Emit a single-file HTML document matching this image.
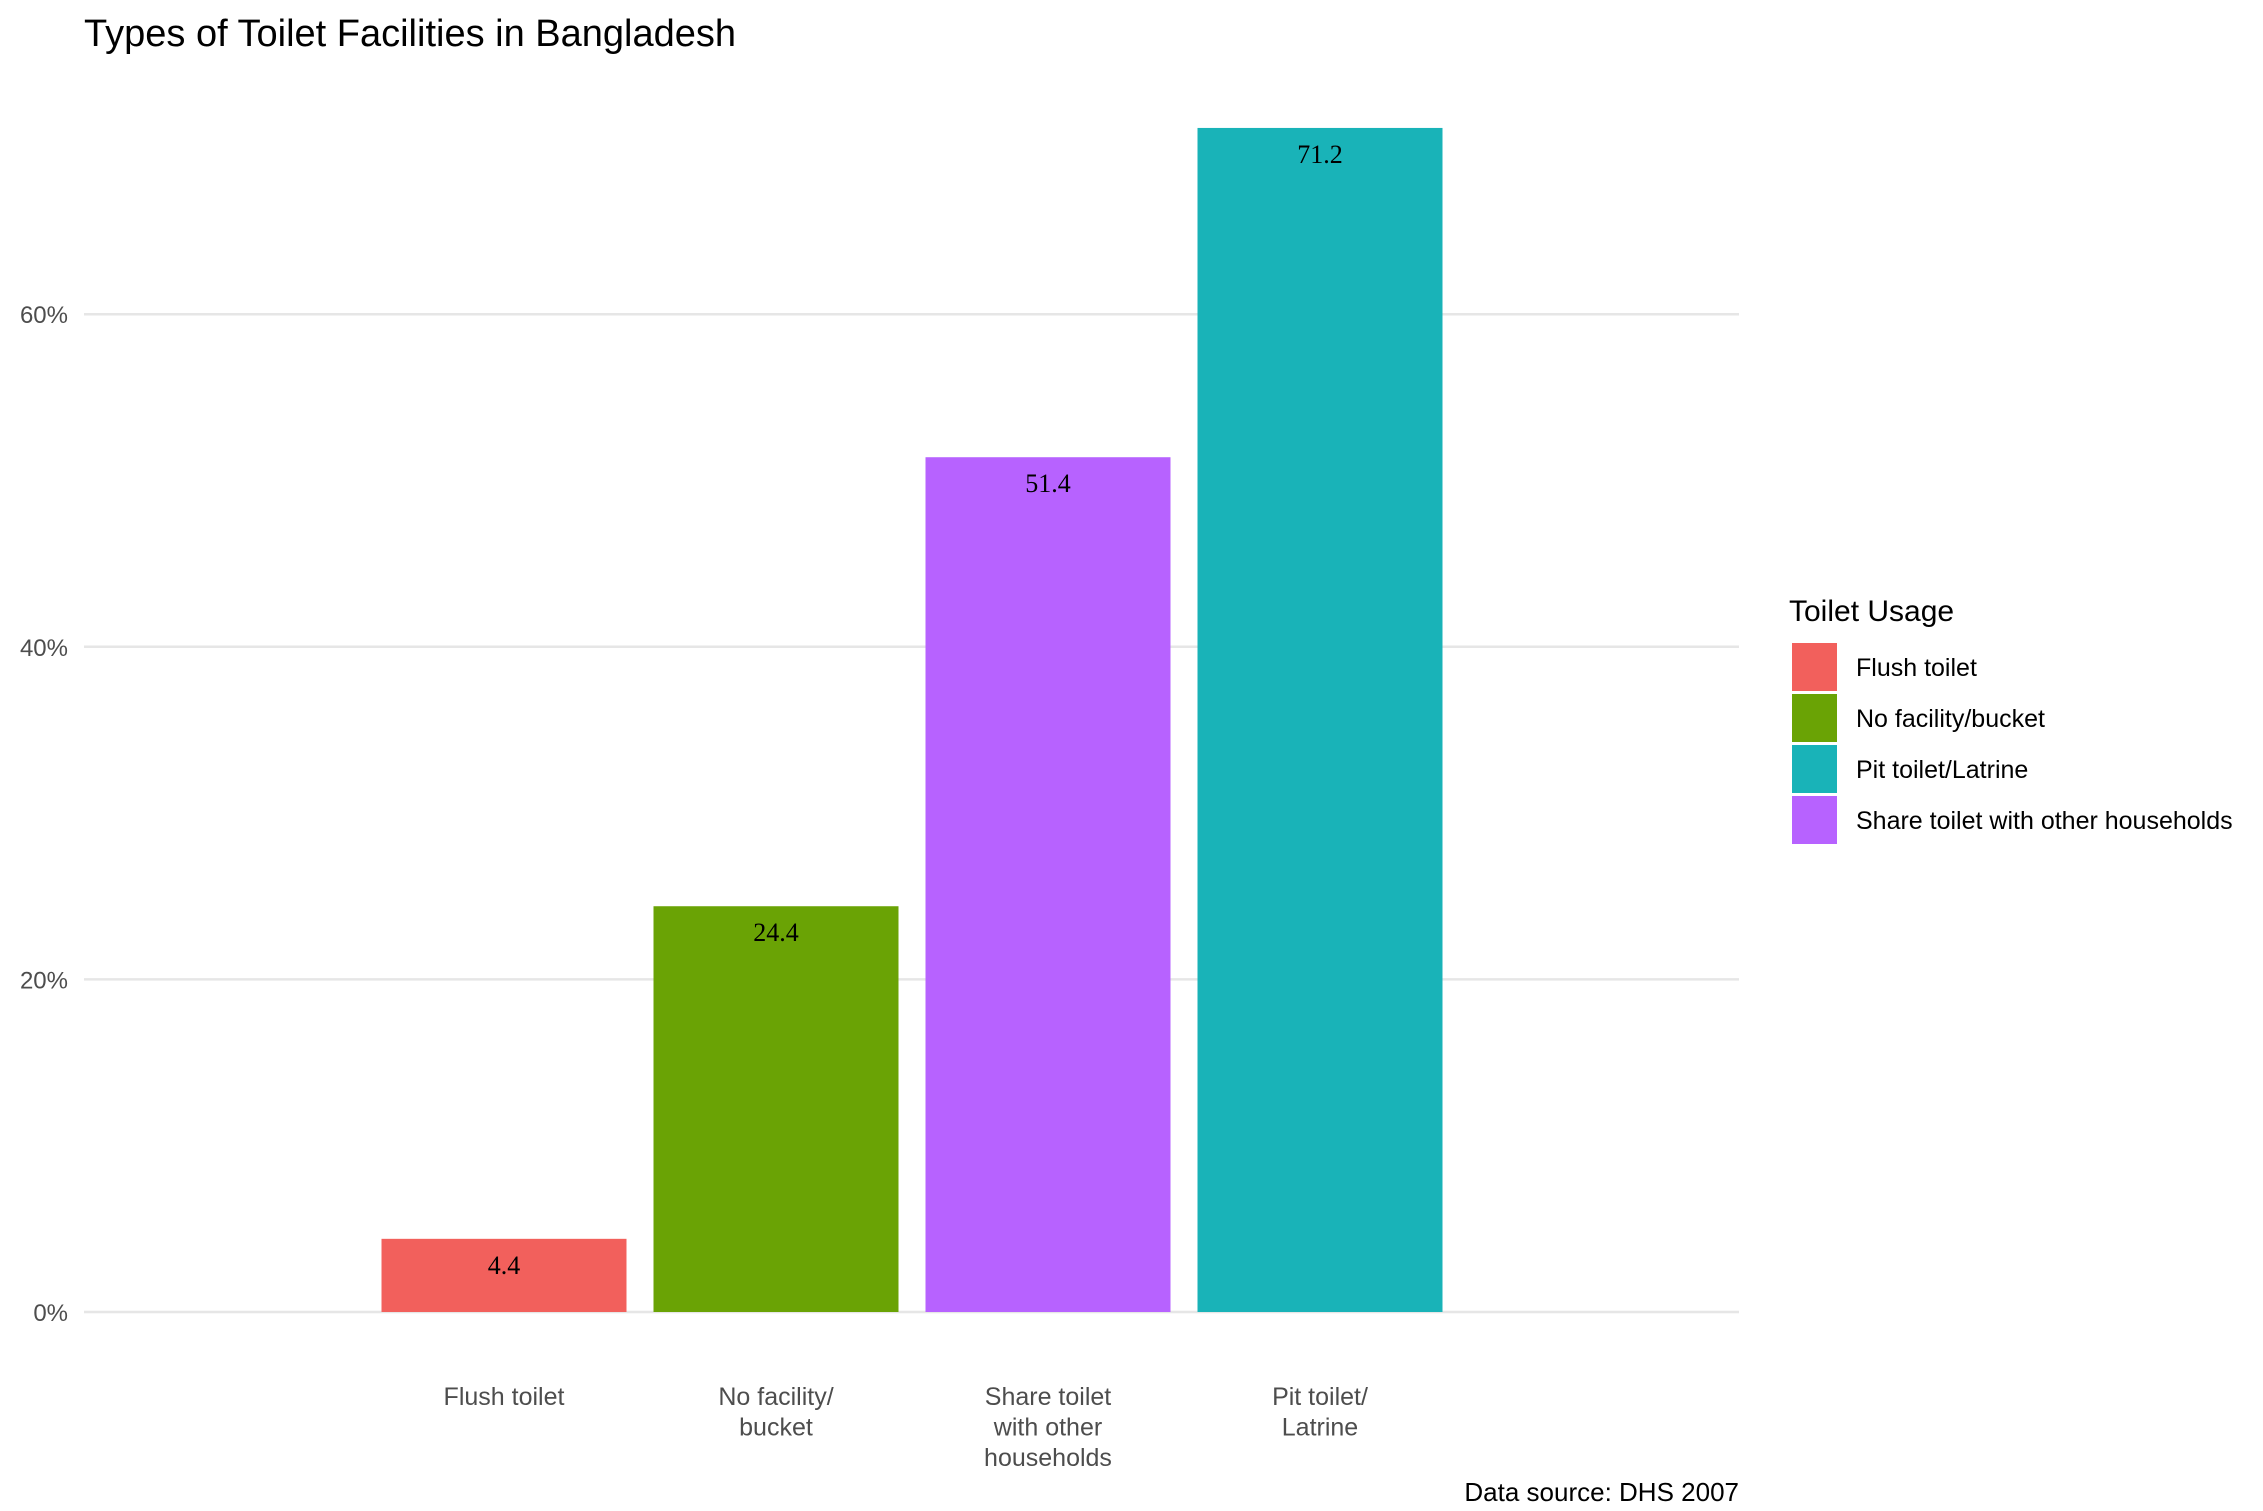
<!DOCTYPE html>
<html><head><meta charset="utf-8"><style>
body{margin:0;background:#fff}
svg{display:block}
</style></head><body>
<svg id="chart" width="2263" height="1511" xmlns="http://www.w3.org/2000/svg" font-family="Liberation Sans, sans-serif">
<text x="84" y="46" font-size="38" fill="#000">Types of Toilet Facilities in Bangladesh</text>
<g id="grid"></g><g id="bars"></g><g id="xlabels"></g><g id="legend"></g>
<text x="1739" y="1501" font-size="26" text-anchor="end" fill="#000">Data source: DHS 2007</text>
</svg>
<script>
const categories = [["Flush toilet"],["No facility/","bucket"],["Share toilet","with other","households"],["Pit toilet/","Latrine"]];
const values = [4.4, 24.4, 51.4, 71.2];
const colors = ["#F2605C","#6AA305","#B762FF","#19B3B8"];
const tickValues = [0, 20, 40, 60];
const tickLabels = ["0%","20%","40%","60%"];
const legendLabels = ["Flush toilet","No facility/bucket","Pit toilet/Latrine","Share toilet with other households"];
const legendColors = ["#F2605C","#6AA305","#19B3B8","#B762FF"];

const NS="http://www.w3.org/2000/svg";
const y0=1312, pxPer=16.63;
const y=v=>y0-v*pxPer;
const x=i=>504+i*272;
const bw=245;
function mk(t,a,p){const e=document.createElementNS(NS,t);for(const k in a)e.setAttribute(k,a[k]);p.appendChild(e);return e;}
const grid=document.getElementById('grid');
tickValues.forEach((v,i)=>{
  const l=mk('line',{x1:84,x2:1739,y1:y(v),y2:y(v),stroke:'#e6e6e6','stroke-width':2.5},grid);
  
  
  const t=mk('text',{x:68,y:y(v)+9,'font-size':24,'text-anchor':'end',fill:'#4d4d4d'},grid);
  
  
  t.textContent=tickLabels[i];
});
const bars=document.getElementById('bars');
values.forEach((v,i)=>{
  const r=mk('rect',{x:x(i)-bw/2,y:y(v),width:bw,height:y0-y(v),fill:colors[i]},bars);
  
  
  const t=mk('text',{x:x(i),y:y(v)+35,'font-size':26,'text-anchor':'middle',fill:'#000','font-family':'Liberation Serif, serif'},bars);
  
  
  t.textContent=v.toFixed(1);
});
const xl=document.getElementById('xlabels');
categories.forEach((lines,i)=>{
  lines.forEach((s,j)=>{
    const t=mk('text',{x:x(i),y:1405+j*30.5,'font-size':25,'text-anchor':'middle',fill:'#4d4d4d'},xl);
    
    
    t.textContent=s;
  });
});
const lg=document.getElementById('legend');
const lt=mk('text',{x:1789,y:621,'font-size':30,fill:'#000'},lg);


lt.textContent='Toilet Usage';
legendLabels.forEach((s,i)=>{
  const r=mk('rect',{x:1792,y:643+i*51,width:45,height:48,fill:legendColors[i]},lg);
  
  
  const t=mk('text',{x:1856,y:676+i*51,'font-size':25,fill:'#000'},lg);
  
  
  t.textContent=s;
});
</script>
</body></html>
